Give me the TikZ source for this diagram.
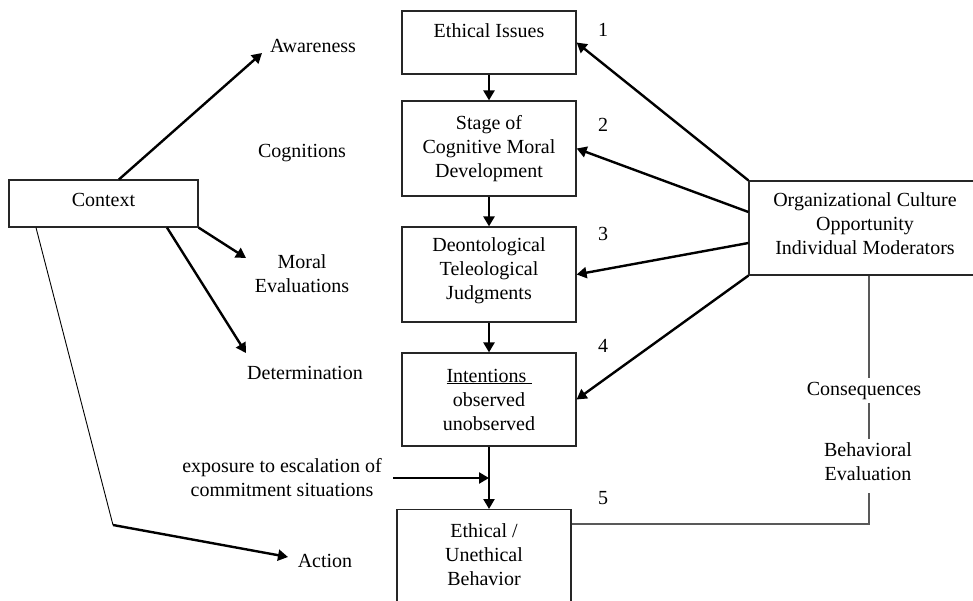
\documentclass[tikz,border=0pt]{standalone}
\usepackage{fontspec}
\setmainfont{Liberation Serif}
\usetikzlibrary{arrows.meta}
\begin{document}
\begin{tikzpicture}[x=1pt,y=-1pt,
  font=\fontsize{20}{24}\selectfont,
  box/.style={draw=black!85, line width=1.2pt, align=center, inner sep=4pt},
  lbl/.style={align=center, inner sep=0pt},
  arr/.style={line width=2.4pt, -{Triangle[length=10pt,width=11pt]}},
  thinline/.style={line width=0.9pt},
  conline/.style={draw=black!65, line width=1.2pt},
]
\useasboundingbox (0,0) rectangle (973,601);
\clip (0,0) rectangle (973,601);

% boxes
\node[box, minimum width=174pt, minimum height=63pt] (ei) at (489,42.5) {Ethical Issues\\\mbox{}};
\node[box, minimum width=174pt, minimum height=95pt] (st) at (489,148.5) {Stage of\\Cognitive Moral\\Development};
\node[box, minimum width=174pt, minimum height=95pt] (dj) at (489,274.5) {Deontological\\Teleological\\Judgments\\[-12pt]\mbox{}};
\node[box, minimum width=174pt, minimum height=93pt] (inten) at (489,399.5) {\underline{Intentions\ }\\observed\\unobserved};
\node[box, minimum width=174pt, anchor=north, inner ysep=14.3pt] (eb) at (484,509) {Ethical /\\Unethical\\Behavior\\[40pt]\mbox{}};
\node[draw=black!85, line width=1.2pt, inner sep=4pt, minimum width=189pt, minimum height=47pt, text depth=6.7pt] (ctx) at (103.5,203.5) {Context};
\node[box, minimum width=232pt, minimum height=94pt] (org) at (865,228) {Organizational Culture\\Opportunity\\Individual Moderators\\[-16pt]\mbox{}};

% labels
\node[lbl, anchor=base] (aw) at (313,53) {Awareness};
\node[lbl, anchor=base] (cog) at (302,158) {Cognitions};
\node[lbl] (me) at (302,274) {Moral\\Evaluations};
\node[lbl, anchor=base] (det) at (305,379) {Determination};
\node[lbl, anchor=base] (act) at (325,567) {Action};
\node[lbl] (expo) at (282,478) {exposure to escalation of\\commitment situations};
\node[lbl, anchor=base, inner sep=4pt] (cons) at (864,395) {Consequences};
\node[lbl, inner sep=4pt] (beh) at (868,462) {Behavioral\\Evaluation};

\node[lbl, anchor=base] (n1) at (603,37) {1};
\node[lbl, anchor=base] (n2) at (603,132) {2};
\node[lbl, anchor=base] (n3) at (603,241) {3};
\node[lbl, anchor=base] (n4) at (603,352) {4};
\node[lbl, anchor=base] (n5) at (603,504) {5};

% coordinates
\coordinate (awtip) at (262,53);
\coordinate (metip) at (246,258);
\coordinate (dettip) at (246,353);
\coordinate (bend) at (113,525);
\coordinate (acttip) at (288,557);
\coordinate (expstart) at (393,478);
\coordinate (vx) at (869,0);
\coordinate (corner) at (869,524);
\coordinate (behb) at ([yshift=-8pt]beh.south);

% connectors
\draw[arr] ([xshift=15.5pt]ctx.north) -- (awtip);
\draw[arr] (ctx.south east) -- (metip);
\draw[arr] ([xshift=63.5pt]ctx.south) -- (dettip);
\draw[thinline] ([xshift=-67.5pt]ctx.south) -- (bend);
\draw[arr] (bend) -- (acttip);

\draw[arr] (org.north west) -- (ei.east);
\draw[arr] ([yshift=16pt]org.west) -- (st.east);
\draw[arr] ([yshift=-15pt]org.west) -- (dj.east);
\draw[arr] (org.south west) -- (inten.east);

\draw[arr] (ei) -- (st);
\draw[arr] (st) -- (dj);
\draw[arr] (dj) -- (inten);
\draw[arr] (inten.south) -- (inten.south |- eb.north);
\draw[arr] (expstart) -- (expstart -| inten.south);

\draw[conline] (org.south -| vx) -- (cons.north -| vx);
\draw[conline] (cons.south -| vx) -- (beh.north -| vx);
\draw[conline] (behb -| vx) -- (corner) -- (corner -| eb.east);
\end{tikzpicture}
\end{document}
